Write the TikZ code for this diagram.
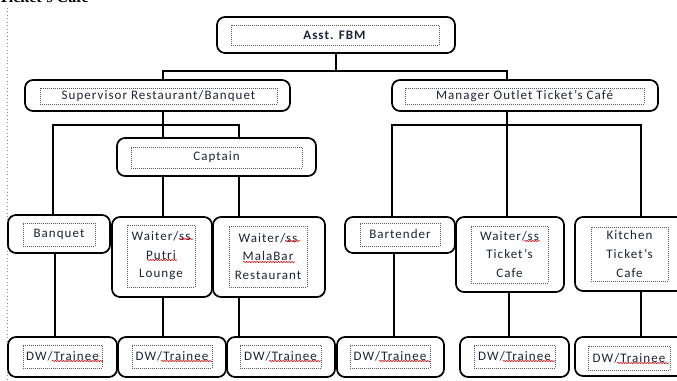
\documentclass[tikz,border=0pt]{standalone}
\usepackage{fontspec}
\setmainfont{Carlito}[LetterSpace=8]
\newfontfamily\titlefont{Liberation Serif}
\usetikzlibrary{decorations.pathmorphing}
\definecolor{txt}{HTML}{1E2238}
\tikzset{
  obox/.style={draw=black, line width=1.3pt, rounded corners=6pt, fill=white, inner sep=0pt},
  ibox/.style={draw=black!65, densely dotted, line width=0.5pt, inner sep=0pt, align=center,
    text=txt, font=\fontsize{9.75pt}{13.9pt}\selectfont},
  conn/.style={line width=1.3pt},
  squig/.style={draw=red!85!black, line width=0.4pt, decorate,
    decoration={snake, amplitude=0.5pt, segment length=2pt}},
  margin/.style={draw=black!45, dotted, line width=0.6pt}
}
\newcommand\OB[5]{\node[obox, minimum width={(#4-#2)*0.75pt}, minimum height={(#5-#3)*0.75pt}] (#1) at ({(#2+#4)/2},{(#3+#5)/2}) {};}
\newcommand\IB[6]{\node[ibox, minimum width={(#4-#2)*0.75pt}, minimum height={(#5-#3)*0.75pt}] (#1) at ({(#2+#4)/2},{(#3+#5)/2}) {#6};}
\begin{document}
\begin{tikzpicture}[x=0.75pt, y=-0.75pt]
\useasboundingbox (0,0) rectangle (677,381);
% cut-off heading
\node[anchor=base east, inner sep=0pt, text=black, font=\titlefont\bfseries\fontsize{12pt}{14pt}\selectfont] (title) at (89,3) {Ticket’s Cafe};
% margin guide
\coordinate (m1) at (7,8); \coordinate (m2) at (7,381);
\draw[margin] (m1) -- (m2);

% outer boxes
\OB{fbm}{217}{17}{455}{53}
\OB{sup}{25}{80}{290}{111}
\OB{mgr}{392}{80}{658}{111}
\OB{cap}{117}{138}{316}{176}
\OB{banq}{8}{215}{110}{253}
\OB{putri}{112}{217}{212}{297}
\OB{mala}{213}{217}{325}{297}
\OB{bart}{345}{217}{455}{253}
\OB{wtk}{456}{217}{564}{292}
\OB{kit}{575}{217}{684}{291}
\OB{dw1}{8}{337}{117}{377}
\OB{dw2}{118}{337}{226}{377}
\OB{dw3}{227}{337}{335}{377}
\OB{dw4}{337}{337}{444}{377}
\OB{dw5}{460}{337}{569}{377}
\OB{dw6}{575}{337}{684}{376}

% inner dotted text boxes
\IB{fbmT}{231}{25}{439}{45}{\textbf{Asst. FBM}}
\IB{supT}{40}{88}{277}{104}{Supervisor Restaurant/Banquet}
\IB{mgrT}{405}{88}{644}{104}{Manager Outlet Ticket’s Café}
\IB{capT}{131}{147}{302}{168}{Captain}
\IB{banqT}{23}{223}{95}{246}{Banquet}
\IB{putriT}{127}{225}{195}{287}{Waiter/ss\\Putri\\Lounge}
\IB{malaT}{229}{226}{307}{287}{Waiter/ss\\MalaBar\\Restaurant}
\IB{bartT}{360}{223}{440}{246}{Bartender}
\IB{wtkT}{471}{226}{548}{283}{Waiter/ss\\Ticket’s\\Cafe}
\IB{kitT}{591}{227}{668}{281}{Kitchen\\Ticket’s\\Cafe}
\IB{dw1T}{23}{345}{102}{368}{DW/Trainee}
\IB{dw2T}{132}{345}{212}{368}{DW/Trainee}
\IB{dw3T}{240}{345}{321}{368}{DW/Trainee}
\IB{dw4T}{350}{345}{430}{368}{DW/Trainee}
\IB{dw5T}{474}{345}{555}{368}{DW/Trainee}
\IB{dw6T}{588}{346}{670}{370}{DW/Trainee}

% junction coordinates
\coordinate (a1) at (163,71);
\coordinate (a2) at (507,71);
\coordinate (b1) at (53,125);
\coordinate (b2) at (239,125);
\coordinate (c1) at (55,300);
\coordinate (d1) at (392,125);
\coordinate (d2) at (641,125);
\coordinate (e1) at (394,300);
\coordinate (e2) at (509,300);

% connectors
\draw[conn] (fbm.south) -- (fbm.south |- a1);
\draw[conn] (a1 |- sup.north) -- (a1) -- (a2) -- (a2 |- mgr.north);
\draw[conn] (a1 |- sup.south) -- (a1 |- cap.north);
\draw[conn] (b1 |- banq.north) -- (b1) -- (b2) -- (b2 |- cap.north);
\draw[conn] (a1 |- cap.south) -- (a1 |- putri.north);
\draw[conn] (b2 |- cap.south) -- (b2 |- mala.north);
\draw[conn] (c1 |- banq.south) -- (c1 |- dw1.north);
\draw[conn] (a1 |- putri.south) -- (a1 |- dw2.north);
\draw[conn] (b2 |- mala.south) -- (b2 |- dw3.north);
\draw[conn] (a2 |- mgr.south) -- (a2 |- wtk.north);
\draw[conn] (d1 |- bart.north) -- (d1) -- (d2) -- (d2 |- kit.north);
\draw[conn] (e1 |- bart.south) -- (e1 |- dw4.north);
\draw[conn] (e2 |- wtk.south) -- (e2 |- dw5.north);
\draw[conn] (d2 |- kit.south) -- (d2 |- dw6.north);

% spell-check squiggles
\draw[squig] (179,239) -- (193,239);
\draw[squig] (147,260) -- (177,260);
\draw[squig] (285,241) -- (300,241);
\draw[squig] (243,262) -- (295,262);
\draw[squig] (524,241) -- (540,241);
\draw[squig] (52,361) -- (103,361);
\draw[squig] (161,361) -- (212,361);
\draw[squig] (269,361) -- (321,361);
\draw[squig] (379,361) -- (430,361);
\draw[squig] (503,361) -- (555,361);
\draw[squig] (617,363) -- (669,363);
\end{tikzpicture}
\end{document}
